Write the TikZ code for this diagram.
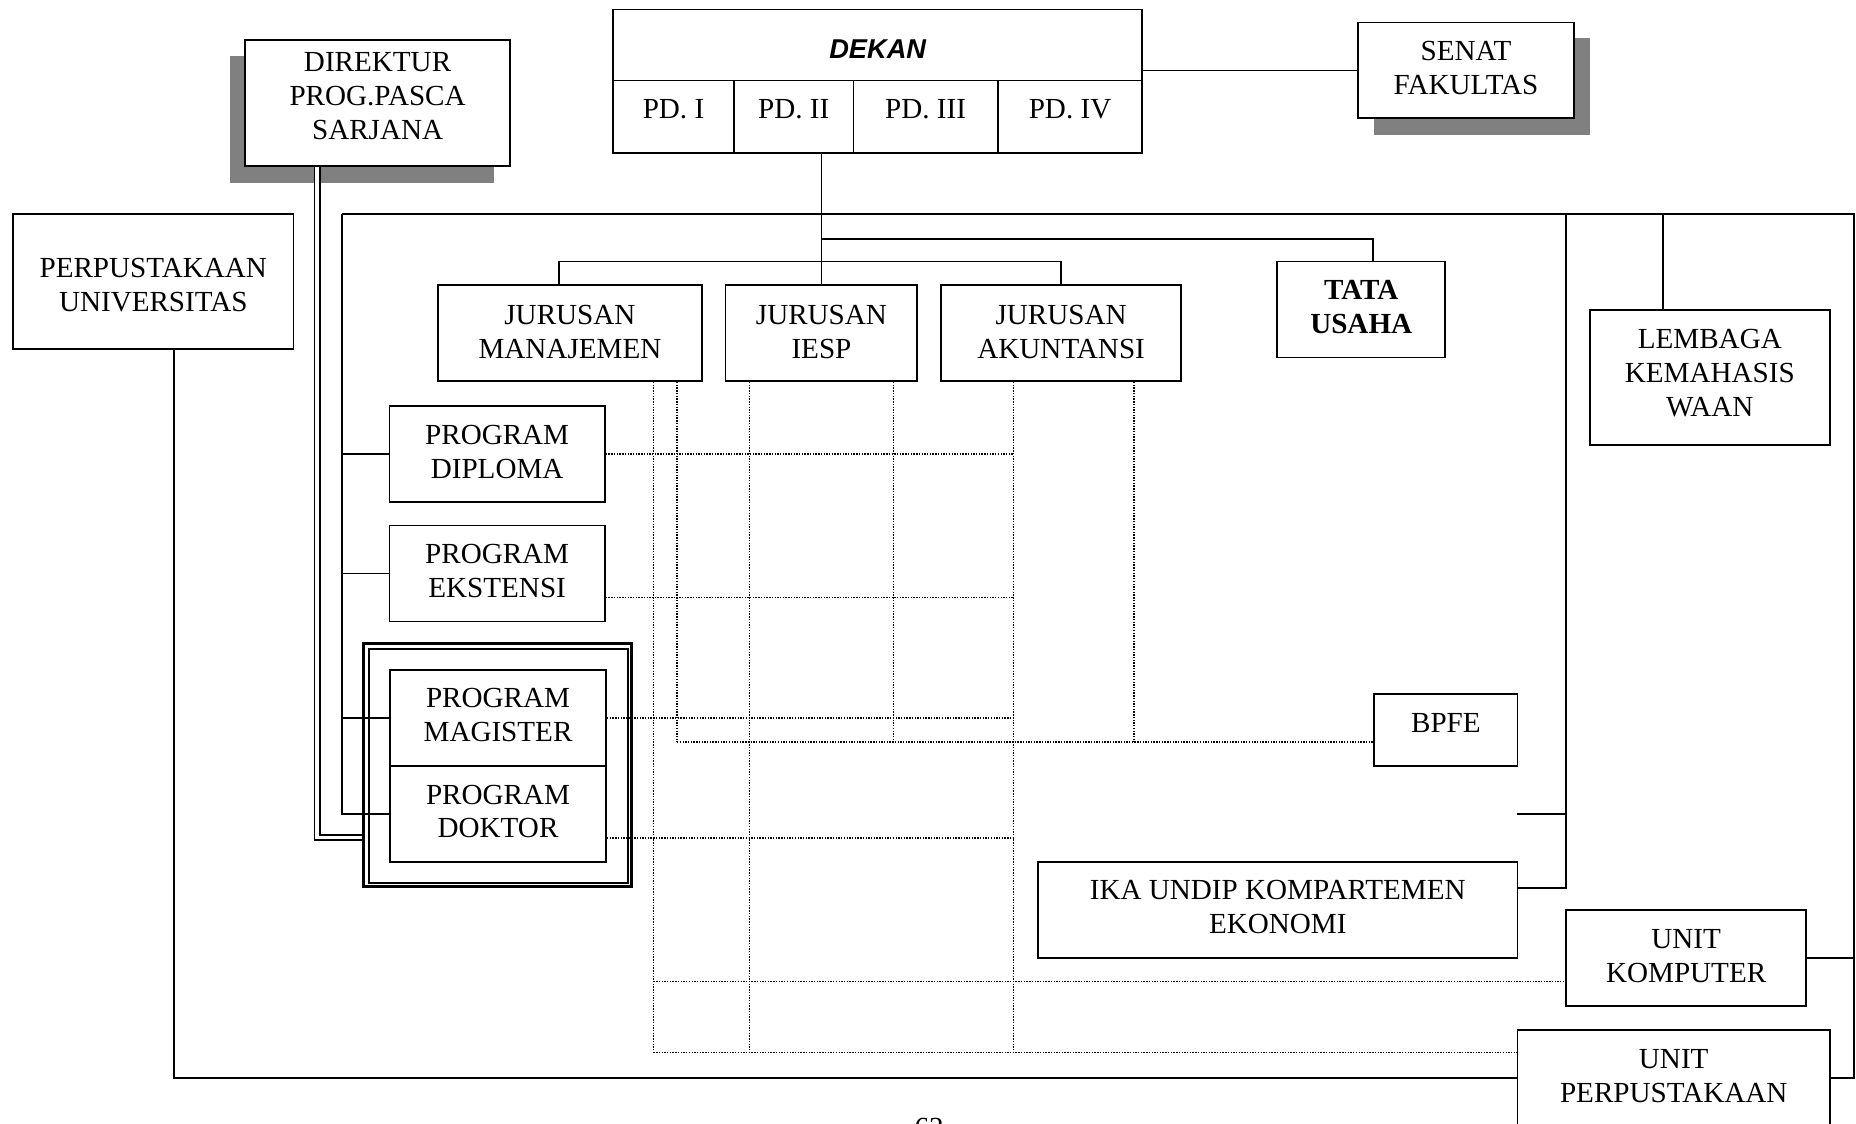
\documentclass[tikz,border=0pt]{standalone}
\usepackage{fontspec}
\setmainfont{Liberation Serif}
\newfontfamily\sansbi{Liberation Sans}
\usetikzlibrary{fit}
\definecolor{shadowgray}{RGB}{128,128,128}
\newcommand{\boxtxt}[2]{\raisebox{#1}[0pt][0pt]{\begin{tabular}[t]{@{}c@{}}#2\end{tabular}}}
\begin{document}
\begin{tikzpicture}[x=0.5pt,y=-0.5pt,
  box/.style={draw, fill=white, line width=0.75pt, inner sep=0pt,
    font=\fontsize{12.3}{14.3}\selectfont},
  wire/.style={line width=0.75pt},
  dots/.style={line width=0.6pt, dash pattern=on 0.6pt off 0.55pt},
  dbl/.style={double, line width=0.75pt, double distance=1.65pt},
  outerframe/.style={draw, line width=1.3pt, inner sep=0pt},
  innerframe/.style={draw, line width=0.75pt, inner sep=0pt},
  shade/.style={fill=shadowgray, draw=none}
]
\useasboundingbox (0,0) rectangle (1568,949);
\clip (0,0) rectangle (1568,949);

% shadows
\fill[shade] (194,47) rectangle (417,155);
\fill[shade] (1161,32) rectangle (1343,114);

% top boxes
\node[box, fit={(207,34) (431,140)}] (dir) {\boxtxt{13.23pt}{DIREKTUR\\PROG.PASCA\\SARJANA}};
\node[box, fit={(1147,19) (1330,100)}] (senat) {\boxtxt{4.08pt}{SENAT\\FAKULTAS}};
\node[box, fit={(518,8) (965,68)}, font={\sansbi\fontsize{11.5}{13}\selectfont\bfseries\itshape}] (dekan) {\boxtxt{-5.6pt}{DEKAN}};
\node[box, fit={(518,68) (620,129)}] (pd1) {\boxtxt{-0.82pt}{PD. I}};
\node[box, fit={(620,68) (721,129)}] (pd2) {\boxtxt{-0.82pt}{PD. II}};
\node[box, fit={(721,68) (843,129)}] (pd3) {\boxtxt{-0.82pt}{PD. III}};
\node[box, fit={(843,68) (965,129)}] (pd4) {\boxtxt{-0.82pt}{PD. IV}};

% left library
\node[box, fit={(11,181) (248,295)}] (pu) {\boxtxt{1.58pt}{PERPUSTAKAAN\\UNIVERSITAS}};

% departments
\node[box, fit={(370,241) (593,322)}] (man) {\boxtxt{3.83pt}{JURUSAN\\MANAJEMEN}};
\node[box, fit={(613,241) (775,322)}] (iesp) {\boxtxt{3.83pt}{JURUSAN\\IESP}};
\node[box, fit={(795,241) (998,322)}] (aku) {\boxtxt{3.83pt}{JURUSAN\\AKUNTANSI}};
\node[box, fit={(1079,221) (1221,302)}, font={\fontsize{12.3}{14.3}\selectfont\bfseries}] (tata) {\boxtxt{4.09pt}{TATA\\USAHA}};
\node[box, fit={(1343,262) (1546,376)}] (lem) {\boxtxt{12.33pt}{LEMBAGA\\KEMAHASIS\\WAAN}};

% programs
\node[box, fit={(329,343) (511,424)}] (dip) {\boxtxt{4.08pt}{PROGRAM\\DIPLOMA}};
\node[box, fit={(329,444) (511,525)}] (eks) {\boxtxt{4.08pt}{PROGRAM\\EKSTENSI}};
\node[outerframe, fit={(307.3,544) (533.4,749)}] (frame) {};
\node[innerframe, fit={(311.5,548.5) (530.3,745.7)}] (frame2) {};
\node[box, fit={(329.5,566) (512,647)}] (mag) {\boxtxt{4.2pt}{PROGRAM\\MAGISTER}};
\node[box, fit={(329.5,647) (512,728)}] (dok) {\boxtxt{4.1pt}{PROGRAM\\DOKTOR}};

% units
\node[box, fit={(1161,586) (1282,647)}] (bpfe) {\boxtxt{-0.97pt}{BPFE}};
\node[box, fit={(877,728) (1282,809)}] (ika) {\boxtxt{4.2pt}{IKA UNDIP KOMPARTEMEN\\EKONOMI}};
\node[box, fit={(1323,769) (1526,850)}] (uk) {\boxtxt{4.1pt}{UNIT\\KOMPUTER}};
\node[box, fit={(1282,870) (1546,952)}] (up) {\boxtxt{4.3pt}{UNIT\\PERPUSTAKAAN}};

% page number (cut off at the page edge, as in the reference)
\node[anchor=base, inner sep=0pt, font=\fontsize{12.3}{14.3}\selectfont] (pg) at (785,961) {62};

% coordinates
\coordinate (tj) at (694,202);
\coordinate (jl) at (472,221);
\coordinate (ftl) at (289,181);
\coordinate (ftr) at (1566,181);
\coordinate (rj) at (1323,181);
\coordinate (lj) at (1405,181);
\coordinate (stub) at (1282,688);
\coordinate (dc) at (268,707.5);
\coordinate (d1) at (552,889);
\coordinate (d2) at (572,627);
\coordinate (d3) at (633,889);
\coordinate (d4) at (755,627);
\coordinate (d5) at (856,889);
\coordinate (d6) at (958,627);
\coordinate (h2) at (856,505);
\coordinate (h4) at (856,708);
\coordinate (h5) at (552,829);

% solid connectors
\draw[wire] (senat.west) -- (senat.west -| dekan.east);
\draw[wire] (pd2.south -| iesp.north) -- (iesp.north);
\draw[wire] (iesp.north |- tj) -| ([xshift=5pt]tata.north);
\draw[wire] (man.north -| jl) -- (jl) -- (aku.north |- jl) -- (aku.north);
\draw[wire] (ftl) -- (ftr) |- (up.east);
\draw[wire] (ftl) |- (dok.west);
\draw[wire] (dip.west) -- (dip.west -| ftl);
\draw[wire] (eks.west) -- (eks.west -| ftl);
\draw[wire] (mag.west) -- (mag.west -| ftl);
\draw[wire] (uk.east) -- (uk.east -| ftr);
\draw[wire] (rj) |- ([yshift=9.25pt]ika.east);
\draw[wire] (stub) -- (stub -| rj);
\draw[wire] (lj) -- (lem.north -| lj);
\draw[wire] ([xshift=8.75pt]pu.south) |- (up.west);
\draw[dbl] (dir.south -| dc) -- (dc) -- (dc -| frame.west);

% dotted connectors
\draw[dots] (man.south -| d1) -- (d1);
\draw[dots] (man.south -| d2) -- (d2);
\draw[dots] (iesp.south -| d3) -- (d3);
\draw[dots] (iesp.south -| d4) -- (d4);
\draw[dots] (aku.south -| d5) -- (d5);
\draw[dots] (aku.south -| d6) -- (d6);
\draw[dots] (dip.east) -- (dip.east -| d5);
\draw[dots] (eks.east |- h2) -- (h2);
\draw[dots] (mag.east) -- (mag.east -| d5);
\draw[dots] (dok.east |- h4) -- (h4);
\draw[dots] (d2) -- (d2 -| bpfe.west);
\draw[dots] (h5) -- (h5 -| uk.west);
\draw[dots] (d1) -- (d1 -| up.west);
\end{tikzpicture}
\end{document}
